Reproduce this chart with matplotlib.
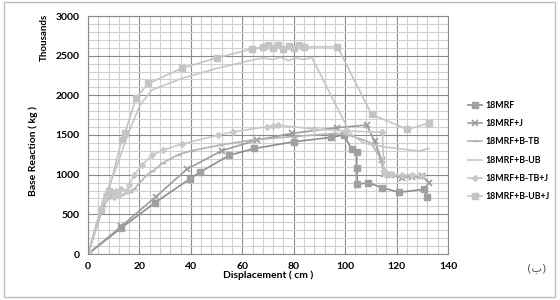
import numpy as np
import matplotlib
matplotlib.use("Agg")
import matplotlib.pyplot as plt
from matplotlib.patches import Rectangle

plt.rcParams['font.family'] = ['Lato', 'DejaVu Sans']

# ---- data (displacement in cm, base reaction in thousands of kg) ----
mrf_x = [0, 13, 26, 39.5, 43.5, 55, 64.7, 80.2, 94.4, 99.5, 102.6, 104.5, 104.5, 104.8, 109, 114.5, 121, 130.5, 132]
mrf_y = [0, 330, 645, 945, 1030, 1245, 1330, 1415, 1470, 1500, 1320, 1290, 1090, 880, 898, 836, 777, 815, 714]

mrf_j_x = [0, 13, 26.3, 38.5, 52, 65.6, 79.2, 96.7, 108.4, 111.5, 114.2, 115, 118, 122, 126, 130, 132.8]
mrf_j_y = [0, 350, 720, 1070, 1302, 1436, 1520, 1592, 1625, 1420, 1184, 1010, 1000, 960, 975, 980, 898]

tb_x = [0, 6, 8, 10, 13, 16.3, 18, 22.8, 25, 29, 35, 40, 51.3, 64.3, 80, 96, 101, 106, 110, 114, 115, 120, 125, 130]
tb_y = [0, 600, 700, 765, 740, 785, 820, 995, 1040, 1147, 1250, 1300, 1373, 1440, 1480, 1520, 1500, 1450, 1400, 1200, 1000, 990, 970, 960]

ub_x = [0, 6, 10, 15.7, 20.2, 24.8, 36.4, 50, 63.7, 68, 72, 75, 78, 81, 84, 87, 102, 107, 115, 128.7, 132.6]
ub_y = [0, 700, 1000, 1520, 1877, 2066, 2213, 2339, 2444, 2470, 2450, 2480, 2440, 2470, 2450, 2478, 1521, 1400, 1350, 1298, 1330]

tbj_x = [0, 5, 7, 9, 10, 11, 12, 13, 15, 16, 18, 21, 24.8, 29.2, 36.4, 50.7, 56.5, 69.5, 72, 73.8, 88, 100, 114.5, 115, 116, 118, 122, 126, 130]
tbj_y = [0, 550, 760, 800, 720, 790, 740, 820, 800, 870, 1000, 1120, 1247, 1310, 1386, 1499, 1541, 1604, 1610, 1625, 1575, 1550, 1535, 1050, 1000, 1010, 990, 1000, 980]

ubj_x = [0, 5, 8, 13.1, 14.4, 18.7, 23.5, 36.4, 50.3, 63.9, 68, 70, 72, 74, 76, 78, 80, 82, 84, 97, 110.3, 124.2, 132.6]
ubj_y = [0, 560, 790, 1436, 1529, 1970, 2150, 2340, 2475, 2585, 2610, 2640, 2600, 2630, 2590, 2620, 2600, 2630, 2610, 2612, 1760, 1570, 1650]

labels = ['18MRF', '18MRF+J', '18MRF+B-TB', '18MRF+B-UB', '18MRF+B-TB+J', '18MRF+B-UB+J']

fig = plt.figure(figsize=(5.6, 3.0), dpi=100)
fig.patches.append(Rectangle((4 / 560, 3 / 300), 551 / 560, 295 / 300, transform=fig.transFigure,
                             fill=False, edgecolor='#bdbdbd', linewidth=1.0))

ax = fig.add_axes([88 / 560, 46 / 300, 360 / 560, 238 / 300])

ax.plot(mrf_x, mrf_y, color='#8e8e8e', lw=1.2, marker='s', ms=4, mfc='#a0a0a0', mec='#a0a0a0', label=labels[0])
ax.plot(mrf_j_x, mrf_j_y, color='#9c9c9c', lw=1.2, marker='x', ms=4, mew=1.2, label=labels[1])
ax.plot(tb_x, tb_y, color='#b4b4b4', lw=1.2, marker='_', ms=4, label=labels[2])
ax.plot(ub_x, ub_y, color='#c6c6c6', lw=1.2, label=labels[3])
ax.plot(tbj_x, tbj_y, color='#c8c8c8', lw=1.2, marker='D', ms=3, label=labels[4])
ax.plot(ubj_x, ubj_y, color='#c4c4c4', lw=1.2, marker='s', ms=5, label=labels[5])

ax.set_xlim(0, 140)
ax.set_ylim(0, 3000)
ax.set_xticks(np.arange(0, 141, 20))
ax.set_yticks(np.arange(0, 3001, 500))
ax.set_xticks(np.arange(0, 141, 4), minor=True)
ax.set_yticks(np.arange(0, 3001, 100), minor=True)
ax.grid(True, which='major', color='#8a8a8a', lw=0.8)
ax.grid(True, which='minor', color='#d0d0d0', lw=0.8)
ax.set_axisbelow(True)
ax.tick_params(which='both', length=0, labelsize=7.5, pad=6)
for lab in ax.get_xticklabels() + ax.get_yticklabels():
    lab.set_fontweight('bold')
for s in ax.spines.values():
    s.set_color('#8a8a8a')
    s.set_linewidth(0.8)

fig.text(268 / 560, 1 - 275 / 300, 'Displacement ( cm )', ha='center', va='center', fontsize=7.5, fontweight='bold')
fig.text(33 / 560, 1 - 151 / 300, 'Base Reaction ( kg )', ha='center', va='center', rotation=90,
         fontsize=7.5, fontweight='bold')
fig.text(44 / 560, 1 - 37 / 300, 'Thousands', ha='center', va='center', rotation=90,
         fontsize=7, fontweight='bold')
fig.text(537 / 560, 1 - 268 / 300, '(ب)', ha='center', va='center', fontsize=8,
         family=['DejaVu Sans'], color='#555555')

leg = ax.legend(loc='upper left', bbox_to_anchor=(468 / 560, 1 - 101 / 300), bbox_transform=fig.transFigure,
                frameon=False, fontsize=6.3, handlelength=1.6, handletextpad=0.4, labelspacing=1.05,
                borderaxespad=0, borderpad=0)
for t in leg.get_texts():
    t.set_fontweight('bold')

fig.savefig('out.png', dpi=100)
